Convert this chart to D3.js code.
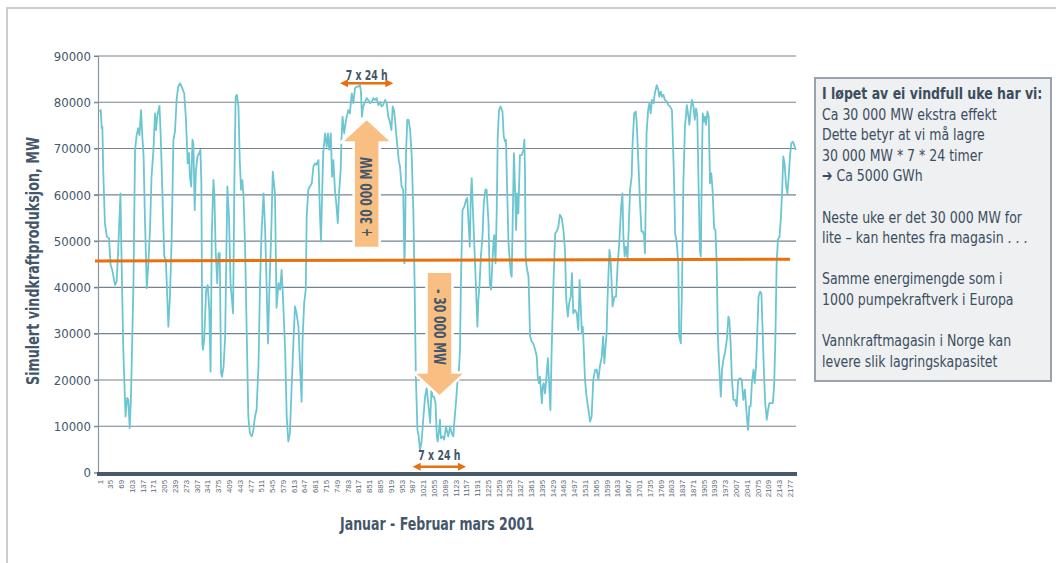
<!DOCTYPE html>
<html lang="no">
<head>
    <meta charset="UTF-8">
    <title>Simulert vindkraftproduksjon</title>
    <script src="https://d3js.org/d3.v7.min.js"></script>
    <style>
        body { margin: 0; background: #fff; }
        svg { display: block; }
        .narrow { font-family: "DejaVu Sans Condensed", "Liberation Sans Narrow", "Liberation Sans", sans-serif; }
    </style>
</head>
<body>
    <div id="chart"></div>

    <script>
        // Hour index (1 = start of January 2001) and simulated wind power, MW
        var hours = [1,5,8,10,13,18,24,31,36,41,50,55,60,67,70,76,83,88,92,96,100,108,113,118,123,127,132,136,140,144,150,155,160,165,171,176,179,183,190,194,199,205,210,213,218,223,228,234,239,244,249,255,262,268,273,279,283,286,290,294,297,301,305,310,315,319,322,325,327,331,337,342,347,351,355,360,363,367,372,376,380,384,387,392,397,401,404,409,414,422,426,430,434,439,443,447,451,455,460,465,470,475,481,486,491,496,502,507,512,518,523,528,532,537,542,
            547,554,559,565,570,575,580,586,591,596,601,607,612,617,622,628,633,638,641,646,651,654,659,664,670,675,680,685,691,696,699,703,706,712,717,721,725,730,734,738,743,748,752,756,761,764,767,772,778,785,790,796,801,806,811,817,822,825,828,832,838,843,848,853,859,864,869,874,880,885,890,895,901,906,911,916,921,925,929,933,935,940,944,948,953,958,962,964,967,971,975,980,985,990,994,998,1003,1007,1011,1016,1022,1027,1032,1037,1043,1047,1051,1055,1060,1064,1067,1071,1074,1077,1083,1087,1093,
            1100,1106,1111,1116,1119,1125,1130,1134,1137,1140,1145,1151,1156,1160,1163,1168,1171,1174,1177,1182,1187,1192,1195,1199,1203,1208,1212,1217,1221,1227,1231,1235,1239,1243,1245,1249,1253,1256,1260,1265,1271,1275,1279,1282,1286,1290,1293,1297,1300,1304,1307,1311,1314,1317,1321,1326,1332,1337,1340,1342,1344,1347,1353,1358,1363,1368,1374,1379,1382,1386,1389,1395,1398,1401,1405,1408,1414,1418,1422,1426,1431,1437,1442,1447,1452,1458,1463,1468,1472,1477,1481,1486,1490,1494,1500,1505,1510,1514,1519,1521,1524,1527,1531,1536,1542,1547,1552,1557,1563,1568,1573,1578,1584,1588,1592,1595,1599,1603,1608,1611,1615,1618,1624,1629,1634,1639,1645,1649,
            1652,1656,1660,1665,1669,1673,1678,1681,1686,1691,1694,1699,1704,1709,1713,1717,1720,1723,1725,1730,1734,1738,1742,1747,1751,1757,1762,1765,1770,1774,1778,1783,1789,1794,1799,1802,1805,1807,1812,1815,1820,1825,1828,1833,1837,1841,1846,1852,1857,1860,1864,1868,1873,1877,1881,1885,1889,1893,1896,1899,1902,1906,1909,1912,1917,1921,1925,1929,1933,1938,1942,1946,1950,1954,1959,1963,1967,1972,1978,1983,1986,1990,1994,1999,2004,2009,2014,2020,2025,2030,2035,2041,2045,2049,2053,2057,2062,2066,2070,2074,2078,2083,2087,2091,2095,2099,2104,2108,2112,2116,2123,2127,2131,2135,2139,2144,2148,2152,2156,2160,2165,2169,2173,2177,2181,2186,2190,2195];

        var mw = [78000,78300,74400,74700,64700,53900,51000,50600,44900,43800,40500,41300,48100,60300,48100,26500,12100,16100,15700,9600,15700,40900,69700,72900,74400,72900,78300,72600,68300,55300,39800,45200,52400,63900,69700,77600,74000,76900,79200,72600,61100,46700,45900,40900,31500,38000,49500,71900,73700,80500,83400,84100,83000,81900,76900,66800,69000,63900,61800,71900,70800,56700,65400,68300,69000,69700,62500,27900,26500,28700,39500,40500,35100,21800,51700,63200,60300,48100,40900,47400,47400,21500,20700,22900,29400,48100,61800,55300,40900,34400,62500,81200,81600,79100,67500,61100,63200,59600,48100,30100,12100,8500,7800,9200,12100,13500,22900,40900,52400,60300,52400,39500,27900,40900,51000,
            65000,60300,35600,40900,39500,43800,36600,26500,12100,6700,8500,19300,27900,35900,34400,31500,22900,15300,28700,36600,39500,55300,61100,61800,62500,66100,66800,66500,67500,55300,49900,61100,69000,73300,70400,73300,69700,73300,63900,67500,61100,57500,53900,60300,65400,72600,76900,73300,76200,78300,77600,81900,79800,83000,83400,83400,83700,82300,76900,79100,80100,80900,80500,79800,80100,80900,80500,80900,79400,80100,79100,79400,80500,79800,76900,75800,74000,79100,78300,75800,74000,70400,67500,66100,61800,61100,45200,50300,69000,76200,76200,74000,68300,56700,40900,20700,9200,7800,4900,6700,12100,16400,18200,15000,10700,17900,16400,16400,15000,7800,6700,9200,11400,7400,7800,7100,9900,
            7800,9900,8500,7800,10700,15700,20700,22200,26500,40900,56700,57500,58900,59300,55300,48800,59600,63600,58200,49500,40900,31500,37300,40900,46700,51000,58200,61100,61100,53900,40900,39500,45200,50300,51300,45200,56700,72600,78300,79100,78000,72600,71500,71900,60300,49500,46700,43100,42300,57500,69000,60300,52400,60300,56000,68600,68600,69700,71900,64700,46700,44500,42300,29400,28300,27900,26500,25100,20700,19300,20700,15000,18600,19300,17100,19300,24700,19300,13500,26500,39500,51700,52100,53100,55700,54900,52400,48100,37300,33700,36600,38000,43100,34400,35100,34400,30800,41600,33700,30100,31500,27200,20000,16400,13500,11000,12100,20000,22200,22200,20000,22900,25100,29400,23600,26500,30100,39500,48100,46700,40900,35900,38000,38000,45200,49500,57500,60300,
            51000,46700,48800,46300,53100,61100,63900,71100,77600,78000,75500,67500,58900,52100,52100,51300,47400,61100,73300,78300,79800,77600,80500,79800,81900,83700,82700,81200,82300,81200,81600,80500,80100,79400,79100,78700,78300,74000,62500,51700,49900,45200,29400,27900,40900,62500,74700,79400,76900,75100,78300,80500,79100,76200,78700,76900,61800,48100,46700,63900,77600,75800,76900,75100,78000,76900,62500,64700,61100,52800,52400,45200,28700,22900,16400,22200,24300,25800,28700,33700,33000,27900,20000,15700,15700,14300,20000,20400,20000,15700,17900,12100,9200,14300,14300,19300,22200,19300,22900,30100,38000,39100,38700,30100,21500,15000,11400,13500,15000,15000,15000,18600,28700,45200,50300,51000,54600,60300,68300,66800,61800,60300,63900,68300,71100,71500,70800,69700];

        // Linear trend (average level) drawn in orange
        var trendHours = [1, 2177];
        var trendMw = [45700, 46100];

        var xTickLabels = [1,35,69,103,137,171,205,239,273,307,341,375,409,443,477,511,545,579,613,647,681,715,749,783,817,851,885,919,953,987,1021,1055,1089,1123,1157,1191,1225,1259,1293,1327,1361,1395,1429,1463,1497,1531,1565,1599,1633,1667,1701,1735,1769,1803,1837,1871,1905,1939,1973,2007,2041,2075,2109,2143,2177];
        var yTicks = [0, 10000, 20000, 30000, 40000, 50000, 60000, 70000, 80000, 90000];

        var boxLines = [
            "I løpet av ei vindfull uke har vi:",
            "Ca 30 000 MW ekstra effekt",
            "Dette betyr at vi må lagre",
            "30 000 MW * 7 * 24 timer",
            "\u2794 Ca  5000 GWh",
            "",
            "Neste uke er det 30 000 MW for",
            "lite \u2013 kan hentes fra magasin . . .",
            "",
            "Samme energimengde som i",
            "1000 pumpekraftverk i Europa",
            "",
            "Vannkraftmagasin i Norge kan",
            "levere slik lagringskapasitet"
        ];

        var width = 1056, height = 563;
        var textColor = "#44576a";

        var svg = d3.select("#chart").append("svg")
            .attr("width", width)
            .attr("height", height);

        // outer frame (top and left edges visible)
        svg.append("path")
            .attr("d", "M7,563 L7,8 L1056,8")
            .attr("fill", "none")
            .attr("stroke", "#c9ced3")
            .attr("stroke-width", 2);

        var x = d3.scaleLinear().domain([1, 2196]).range([99.5, 796]);
        var y = d3.scaleLinear().domain([0, 90000]).range([472.5, 56]);

        // gridlines
        svg.append("g").selectAll("line")
            .data(yTicks.filter(function(d) { return d > 0; }))
            .enter().append("line")
            .attr("x1", 94).attr("x2", 796)
            .attr("y1", function(d) { return y(d); })
            .attr("y2", function(d) { return y(d); })
            .attr("stroke", "#75838f")
            .attr("stroke-width", 1.1);

        // y axis
        var yAxis = svg.append("g")
            .attr("class", "narrow")
            .attr("transform", "translate(98,0)")
            .call(d3.axisLeft(y).tickValues(yTicks).tickFormat(d3.format("d")).tickSize(4).tickPadding(3));
        yAxis.select(".domain").attr("stroke", "#8c969f").attr("stroke-width", 1.2);
        yAxis.selectAll(".tick line").attr("stroke", "#75838f");
        yAxis.selectAll("text")
            .attr("fill", textColor)
            .style("font-size", "13px");

        // wind power line
        var line = d3.line()
            .x(function(d, i) { return x(hours[i]); })
            .y(function(d) { return y(d); });

        svg.append("path")
            .datum(mw)
            .attr("d", line)
            .attr("fill", "none")
            .attr("stroke", "#6cc6d1")
            .attr("stroke-width", 1.8)
            .attr("stroke-linejoin", "round");

        // trend line
        svg.append("line")
            .attr("x1", 95).attr("x2", x(trendHours[1]))
            .attr("y1", y(trendMw[0])).attr("y2", y(trendMw[1]))
            .attr("stroke", "#e8700e")
            .attr("stroke-width", 3);

        // x axis
        var xAxis = svg.append("g")
            .attr("transform", "translate(0,474)")
            .call(d3.axisBottom(x).tickValues(xTickLabels).tickFormat(d3.format("d")).tickSize(0).tickPadding(0));
        xAxis.select(".domain").remove();
        xAxis.append("line")
            .attr("x1", 97).attr("x2", 797)
            .attr("y1", 0).attr("y2", 0)
            .attr("stroke", "#47596a")
            .attr("stroke-width", 4);
        xAxis.selectAll(".tick text")
            .attr("fill", "#5a6773")
            .attr("transform", "translate(0,6) rotate(-90)")
            .attr("text-anchor", "end")
            .attr("x", 0).attr("y", 0).attr("dy", "0.32em")
            .style("font-family", "Liberation Sans, sans-serif")
            .style("font-size", "7.8px");

        // axis titles
        svg.append("text")
            .attr("class", "narrow")
            .attr("transform", "translate(39,261) rotate(-90)")
            .attr("text-anchor", "middle")
            .attr("textLength", 248)
            .attr("lengthAdjust", "spacingAndGlyphs")
            .attr("fill", textColor)
            .style("font-size", "17px")
            .style("font-weight", "bold")
            .text("Simulert vindkraftproduksjon, MW");

        svg.append("text")
            .attr("class", "narrow")
            .attr("x", 437).attr("y", 530)
            .attr("text-anchor", "middle")
            .attr("textLength", 194)
            .attr("lengthAdjust", "spacingAndGlyphs")
            .attr("fill", textColor)
            .style("font-size", "17px")
            .style("font-weight", "bold")
            .text("Januar - Februar mars 2001");

        // big arrows (+30 000 MW surplus, -30 000 MW deficit)
        var arrowFill = "#f9bf82";
        function bigArrow(hour, fromMw, toMw) {
            var cx = x(hour), y0 = y(fromMw), y1 = y(toMw);
            var dir = y1 < y0 ? 1 : -1;          // 1 = pointing up
            var hb = y1 + dir * 24;              // base of the head
            var pts = [[cx - 13, y0], [cx - 13, hb], [cx - 26, hb], [cx, y1],
                       [cx + 26, hb], [cx + 13, hb], [cx + 13, y0]];
            svg.append("polygon")
                .attr("points", pts.map(function(p) { return p.join(","); }).join(" "))
                .attr("fill", arrowFill)
                .attr("stroke", "#fff")
                .attr("stroke-width", 2.5)
                .attr("stroke-linejoin", "miter");
            return cx;
        }
        var upX = bigArrow(843, 48500, 76500);
        var downX = bigArrow(1072.5, 43400, 16400);

        svg.append("text")
            .attr("class", "narrow")
            .attr("transform", "translate(" + (upX + 5.5) + ",197) rotate(-90)")
            .attr("text-anchor", "middle")
            .attr("textLength", 80)
            .attr("lengthAdjust", "spacingAndGlyphs")
            .attr("fill", textColor)
            .style("font-size", "15px")
            .style("font-weight", "bold")
            .text("+ 30 000 MW");

        svg.append("text")
            .attr("class", "narrow")
            .attr("transform", "translate(" + (downX - 5.5) + ",327) rotate(90)")
            .attr("text-anchor", "middle")
            .attr("textLength", 76)
            .attr("lengthAdjust", "spacingAndGlyphs")
            .attr("fill", textColor)
            .style("font-size", "15px")
            .style("font-weight", "bold")
            .text("-  30 000 MW");

        // 7 x 24 h span markers
        var spans = [{start: 759, mwY: 84100, textY: 80}, {start: 988, mwY: 1250, textY: 460}];
        var orange = "#e8700e";
        spans.forEach(function(s) {
            var x0 = x(s.start), x1 = x(s.start + 168), yy = y(s.mwY);
            svg.append("line")
                .attr("x1", x0 + 6).attr("x2", x1 - 6)
                .attr("y1", yy).attr("y2", yy)
                .attr("stroke", orange).attr("stroke-width", 2.5);
            svg.append("polygon")
                .attr("points", [x0, yy, x0 + 8, yy - 4, x0 + 8, yy + 4].join(","))
                .attr("fill", orange);
            svg.append("polygon")
                .attr("points", [x1, yy, x1 - 8, yy - 4, x1 - 8, yy + 4].join(","))
                .attr("fill", orange);
            svg.append("text")
                .attr("class", "narrow")
                .attr("x", (x0 + x1) / 2).attr("y", s.textY)
                .attr("text-anchor", "middle")
                .attr("textLength", 42)
                .attr("lengthAdjust", "spacingAndGlyphs")
                .attr("fill", textColor)
                .style("font-size", "14px")
                .style("font-weight", "bold")
                .text("7 x 24 h");
        });

        // explanation box
        svg.append("rect")
            .attr("x", 815).attr("y", 78)
            .attr("width", 236).attr("height", 303)
            .attr("fill", "#eef0f2")
            .attr("stroke", "#9aa3ab")
            .attr("stroke-width", 2);

        svg.append("g")
            .attr("transform", "translate(822,0) scale(0.87,1)")
            .selectAll("text")
            .data(boxLines)
            .enter().append("text")
            .attr("class", "narrow")
            .attr("x", 0)
            .attr("y", function(d, i) { return 99 + i * 20.6; })
            .attr("fill", "#3b4d5e")
            .style("font-size", "16px")
            .style("font-weight", function(d, i) { return i === 0 ? "bold" : "normal"; })
            .text(function(d) { return d; });
    </script>
</body>
</html>
